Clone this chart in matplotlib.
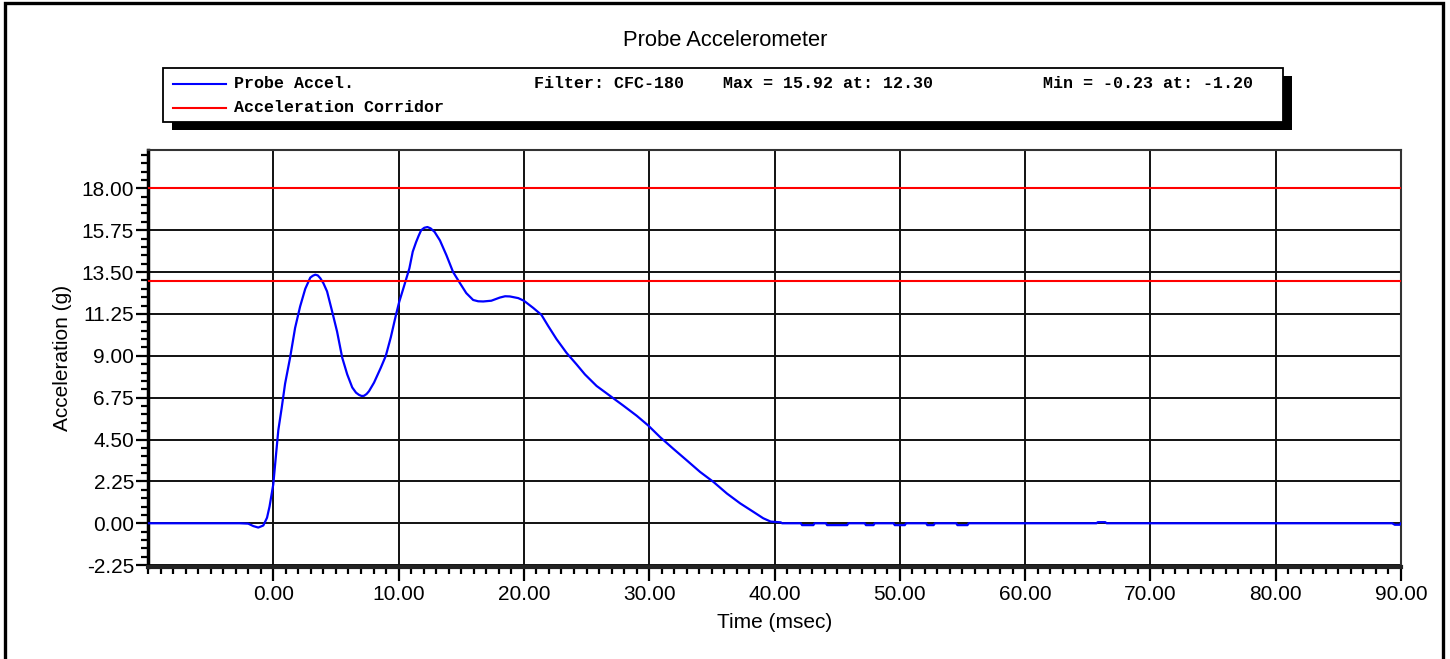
import matplotlib
matplotlib.use("Agg")
import matplotlib.pyplot as plt
from matplotlib.patches import Rectangle
from matplotlib.lines import Line2D
from matplotlib.ticker import MultipleLocator, FixedLocator, FormatStrFormatter

# ---------------- data ----------------
time_ms = [-10.0, -2.7, -2.0, -1.6, -1.2, -0.8, -0.5, -0.3, 0.0, 0.2, 0.4, 0.67, 0.94,
           1.34, 1.74, 2.14, 2.55, 2.95, 3.15, 3.35, 3.55, 3.75, 4.0, 4.29, 4.69, 5.09,
           5.5, 5.9, 6.3, 6.6, 6.84, 7.05, 7.24, 7.45, 7.64, 8.04, 8.58, 8.98, 9.38,
           9.79, 10.05, 10.46, 10.86, 11.13, 11.39, 11.6, 11.8, 12.05, 12.3, 12.55,
           12.87, 13.3, 13.82, 14.35, 14.9, 15.4, 15.95, 16.35, 16.75, 17.4, 18.08,
           18.5, 18.88, 19.55, 20.0, 20.75, 21.4, 21.94, 22.6, 23.4,
           24.2, 24.87, 25.8, 26.87, 27.94, 29.0, 29.93, 30.87, 31.93, 33.0, 34.06,
           35.13, 36.2, 37.26, 38.3, 39.1, 39.7, 40.5, 40.6,
           42.1, 42.2, 43.1, 43.2, 44.1, 44.2, 45.8, 45.9, 47.2, 47.3, 47.9, 48.0,
           49.5, 49.6, 50.4, 50.5, 52.1, 52.2, 52.7, 52.8, 54.5, 54.6, 55.4, 55.5,
           65.7, 65.8, 66.4, 66.5, 89.3, 89.5, 89.9, 90.0]
accel_g = [0.0, 0.0, -0.02, -0.15, -0.23, -0.12, 0.3, 0.9, 2.1, 3.56, 5.0, 6.2, 7.5,
           8.9, 10.5, 11.65, 12.6, 13.2, 13.3, 13.36, 13.32, 13.17, 12.9, 12.46, 11.4, 10.3,
           8.9, 8.0, 7.3, 7.02, 6.9, 6.84, 6.85, 6.95, 7.1, 7.56, 8.36, 9.0, 10.0,
           11.2, 11.9, 12.8, 13.7, 14.6, 15.1, 15.45, 15.75, 15.88, 15.92, 15.85,
           15.66, 15.2, 14.4, 13.5, 12.9, 12.37, 12.0, 11.93, 11.92, 11.96, 12.13,
           12.2, 12.19, 12.1, 11.96, 11.57, 11.2, 10.6, 9.9, 9.16,
           8.54, 8.0, 7.38, 6.85, 6.32, 5.78, 5.25, 4.63, 4.0, 3.38, 2.76,
           2.22, 1.6, 1.07, 0.62, 0.27, 0.09, 0.05, 0.0,
           0.0, -0.1, -0.1, 0.0, 0.0, -0.1, -0.1, 0.0, 0.0, -0.1, -0.1, 0.0,
           0.0, -0.1, -0.1, 0.0, 0.0, -0.1, -0.1, 0.0, 0.0, -0.1, -0.1, 0.0,
           0.0, 0.06, 0.06, 0.0, 0.0, -0.08, -0.08, 0.0]

corridor_t = [-10.0, 90.0]
corridor_upper = [18.0, 18.0]
corridor_lower = [13.0, 13.0]

x_ticks = [0, 10, 20, 30, 40, 50, 60, 70, 80, 90]
y_ticks = [-2.25, 0.0, 2.25, 4.5, 6.75, 9.0, 11.25, 13.5, 15.75, 18.0]

title = "Probe Accelerometer"
series_name = "Probe Accel."
corridor_name = "Acceleration Corridor"
filter_text = "Filter: CFC-180"
max_text = "Max = 15.92 at: 12.30"
min_text = "Min = -0.23 at: -1.20"

# ---------------- figure ----------------
W, H = 1450, 659
fig = plt.figure(figsize=(W / 100, H / 100), dpi=100)
plt.rcParams['font.family'] = ['Liberation Sans', 'DejaVu Sans']

def fx(px):
    return px / W

def fy(py):
    return 1 - py / H

# outer border
fig.patches.append(Rectangle((fx(4.7), fy(700)), fx(1442.5) - fx(4.7), fy(3) - fy(700),
                             transform=fig.transFigure, fill=False, edgecolor='black',
                             linewidth=2.4, clip_on=False))

ax = fig.add_axes([fx(148), fy(567), fx(1401) - fx(148), fy(150) - fy(567)])

ax.plot(time_ms, accel_g, color='#0000ff', linewidth=1.6, zorder=3)
ax.plot(corridor_t, corridor_upper, color='#ff0000', linewidth=1.5, zorder=4)
ax.plot(corridor_t, corridor_lower, color='#ff0000', linewidth=1.5, zorder=4)

ax.set_xlim(-10, 90)
ax.set_ylim(-2.35, 20.06)

ax.xaxis.set_major_locator(FixedLocator(x_ticks))
ax.xaxis.set_minor_locator(MultipleLocator(1.0))
ax.yaxis.set_major_locator(FixedLocator(y_ticks))
ax.yaxis.set_minor_locator(MultipleLocator(0.45))
ax.xaxis.set_major_formatter(FormatStrFormatter('%.2f'))
ax.yaxis.set_major_formatter(FormatStrFormatter('%.2f'))

ax.grid(True, which='major', color='#111111', linewidth=1.4, zorder=1)
ax.set_axisbelow(True)

ax.tick_params(axis='x', which='major', direction='out', length=10, width=1.6,
               labelsize=15, pad=3, color='black')
ax.tick_params(axis='x', which='minor', direction='out', length=5, width=1.6, color='black')
ax.tick_params(axis='y', which='major', direction='out', length=9, width=1.6,
               labelsize=15, pad=1, color='black')
ax.tick_params(axis='y', which='minor', direction='out', length=5, width=1.6, color='black')

for side in ['top', 'right']:
    ax.spines[side].set_color('#333333')
    ax.spines[side].set_linewidth(1.5)
ax.spines['left'].set_color('black')
ax.spines['left'].set_linewidth(2.5)
ax.spines['bottom'].set_color('#222222')
ax.spines['bottom'].set_linewidth(3.0)

# labels and title
fig.text(fx(725), fy(41), title, ha='center', va='center', fontsize=15.8)
fig.text(fx(775), fy(622), "Time (msec)", ha='center', va='center', fontsize=15)
fig.text(fx(62), fy(358), "Acceleration (g)", ha='center', va='center', fontsize=15,
         rotation=90)

# legend box with shadow
lx0, ly0, lx1, ly1 = 163.3, 67.7, 1283.3, 121.7
fig.patches.append(Rectangle((fx(lx0 + 8.5), fy(ly1 + 8.5)), fx(lx1) - fx(lx0), fy(ly0) - fy(ly1),
                             transform=fig.transFigure, facecolor='black', edgecolor='black',
                             linewidth=0))
fig.patches.append(Rectangle((fx(lx0), fy(ly1)), fx(lx1) - fx(lx0), fy(ly0) - fy(ly1),
                             transform=fig.transFigure, facecolor='white', edgecolor='black',
                             linewidth=1.3))
fig.lines.append(Line2D([fx(173), fx(226)], [fy(84), fy(84)], transform=fig.transFigure,
                        color='#0000ff', linewidth=1.5))
fig.lines.append(Line2D([fx(173), fx(226)], [fy(107.7), fy(107.7)], transform=fig.transFigure,
                        color='#ff0000', linewidth=1.5))
mono = dict(family=['Liberation Mono', 'DejaVu Sans Mono'], fontweight='bold', fontsize=12,
            va='baseline', ha='left')
fig.text(fx(234.5), fy(88), series_name, **mono)
fig.text(fx(534), fy(88), filter_text, **mono)
fig.text(fx(723), fy(88), max_text, **mono)
fig.text(fx(1043), fy(88), min_text, **mono)
fig.text(fx(234.5), fy(111.7), corridor_name, **mono)

fig.savefig("out.png", dpi=100)
